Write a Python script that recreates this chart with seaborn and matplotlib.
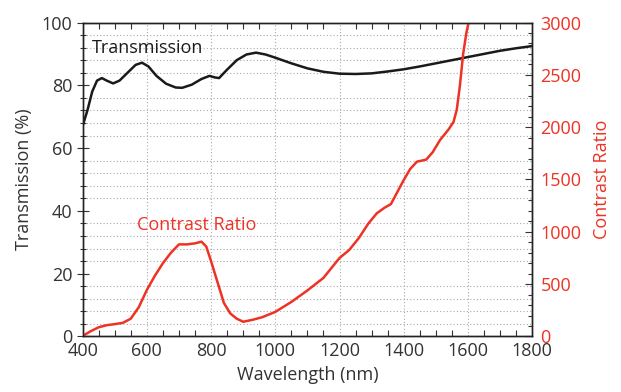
import numpy as np
import pandas as pd
import matplotlib
matplotlib.use("Agg")
import matplotlib.pyplot as plt
import seaborn as sns
from matplotlib.ticker import MultipleLocator

# 1. Data
trans_wl = [400, 415, 430, 445, 460, 475, 495, 515, 540, 565, 585, 605, 630, 660,
            690, 710, 740, 770, 795, 812, 825, 850, 880, 910, 940, 970, 1000, 1050,
            1100, 1150, 1200, 1250, 1300, 1350, 1400, 1450, 1500, 1550, 1600, 1650,
            1700, 1750, 1800]
trans_val = [67, 72, 78, 81.5, 82.3, 81.5, 80.6, 81.5, 84, 86.5, 87.2, 86, 83, 80.5,
             79.3, 79.2, 80.2, 82, 83, 82.5, 82.3, 85, 88, 89.8, 90.4, 89.8, 88.8, 87,
             85.4, 84.3, 83.7, 83.6, 83.8, 84.4, 85.1, 86, 87, 88, 89, 90,
             91, 91.8, 92.5]

cr_wl = [400, 425, 450, 475, 500, 525, 550, 575, 600, 625, 650, 675, 700, 725, 750,
         770, 785, 800, 820, 840, 860, 880, 900, 930, 960, 1000, 1050, 1100, 1150,
         1200, 1230, 1260, 1290, 1316, 1340, 1360, 1380, 1400, 1420, 1441, 1470,
         1490, 1513, 1540, 1555, 1565, 1575, 1585, 1595, 1602]
cr_val = [5, 50, 88, 108, 118, 130, 170, 280, 444, 580, 700, 800, 880, 880, 890,
          906, 860, 720, 520, 320, 220, 170, 141, 160, 185, 235, 330, 440, 560,
          750, 826, 940, 1080, 1177, 1230, 1265, 1380, 1495, 1600, 1670, 1690,
          1760, 1877, 1980, 2050, 2164, 2400, 2700, 2900, 3000]

trans = pd.DataFrame({"wl": trans_wl, "T": trans_val})
cr = pd.DataFrame({"wl": cr_wl, "CR": cr_val})

RED = "#ee3224"
DARK = "#333333"

# 2. Style
sns.set_theme(style="ticks")
plt.rcParams["font.family"] = ["Open Sans", "DejaVu Sans"]

fig = plt.figure(figsize=(6.21, 3.92), dpi=100)
ax = fig.add_axes([0.133, 0.1416, 0.724, 0.801])
ax2 = ax.twinx()

# 3. Curves
sns.lineplot(data=trans, x="wl", y="T", ax=ax, color="#1a1a1a", lw=1.8)
sns.lineplot(data=cr, x="wl", y="CR", ax=ax2, color=RED, lw=1.8)

# 4. Axes
ax.set_xlim(400, 1800)
ax.set_ylim(0, 100)
ax2.set_ylim(0, 3000)
ax.xaxis.set_major_locator(MultipleLocator(200))
ax.xaxis.set_minor_locator(MultipleLocator(50))
ax.yaxis.set_major_locator(MultipleLocator(20))
ax.yaxis.set_minor_locator(MultipleLocator(4))
ax2.yaxis.set_major_locator(MultipleLocator(500))
ax2.yaxis.set_minor_locator(MultipleLocator(100))

ax.grid(True, axis="x", which="major", ls=(0, (1, 2)), color="#aaaaaa", lw=0.8)
ax.grid(True, axis="y", which="minor", ls=(0, (1, 2)), color="#aaaaaa", lw=0.8)
ax.set_axisbelow(True)

ax.tick_params(axis="x", which="both", direction="in", top=True, colors=DARK,
               labelsize=13, pad=4)
ax.tick_params(axis="x", which="major", length=0)
ax.tick_params(axis="x", which="minor", length=4, width=0.8)
ax.tick_params(axis="y", which="major", direction="inout", length=8, width=0.8,
               colors=DARK, labelsize=13)
ax.tick_params(axis="y", which="minor", direction="inout", length=5, width=0.8,
               colors=DARK)
ax2.tick_params(axis="y", which="major", direction="in", length=5, width=0.8,
                color=DARK, labelcolor=RED, labelsize=13, pad=6)
ax2.tick_params(axis="y", which="minor", direction="in", length=3, width=0.8,
                color=DARK)

for a in (ax, ax2):
    for s in a.spines.values():
        s.set_color("#222222")
        s.set_linewidth(1.0)

ax.set_xlabel("Wavelength (nm)", fontsize=13, color=DARK, labelpad=4)
ax.set_ylabel("Transmission (%)", fontsize=13, color=DARK, labelpad=6)
ax2.set_ylabel("Contrast Ratio", fontsize=13, color=RED, labelpad=8)

# 5. Labels on the curves
ax.text(430, 91.9, "Transmission", fontsize=13, color="#1a1a1a", va="center")
ax.text(570, 35.5, "Contrast Ratio", fontsize=13, color=RED, va="center")

fig.savefig("out.png", dpi=100)
